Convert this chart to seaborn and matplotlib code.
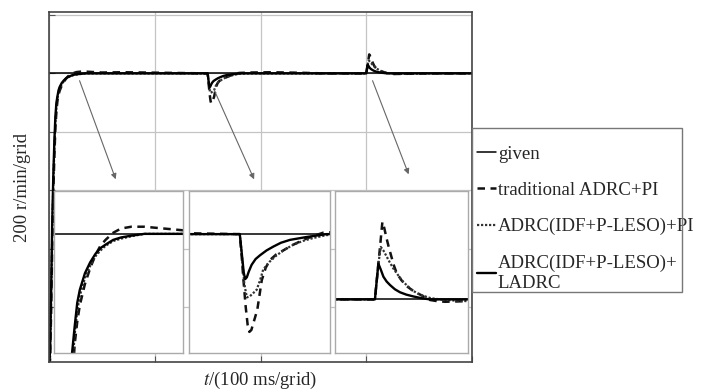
import matplotlib
matplotlib.use("Agg")
import matplotlib.pyplot as plt
from matplotlib.patches import Rectangle
import seaborn as sns

# speed responses, t in ms, speed in r/min
t_given = [0, 400]
v_given = [1000, 1000]

t_trad = [0, 1, 2, 3, 4, 5, 6, 7, 8, 9, 10, 12, 14, 16, 18, 20, 23, 26, 30, 35, 40, 50, 70, 90, 110, 130, 149,
          150, 150.6, 151.3, 152.1, 152.8, 153.4, 154.1, 154.8, 156.2, 157.8, 159.2, 160.7, 163, 165.4, 169, 172.5,
          176, 179.6, 190, 210, 240, 260,
          300, 301.3, 302, 302.8, 303.5, 304.4, 305.3, 306.3, 307.2, 308.2, 310, 312, 314.5, 317, 319, 320.7,
          323.5, 326.4, 334.5, 345, 357, 400]
v_trad = [0, 20, 180, 400, 580, 710, 810, 870, 907, 926, 940, 958, 971, 982, 990, 995, 1001, 1004.5, 1006, 1006, 1005,
          1003, 1004, 1003, 1002, 1001, 1000,
          1000, 980, 952, 924, 905, 898, 900, 907, 921, 952, 965, 973, 979, 983, 989, 994,
          998, 1001.5, 1003, 1004, 1002, 1000,
          1000, 1030, 1046, 1065, 1060, 1051, 1043, 1035, 1028, 1022, 1016, 1011, 1007, 1004, 1001.5, 999.5,
          998.5, 998, 998.5, 999, 1000, 1000]

t_pi = [0, 1, 2, 3, 4, 5, 6, 7, 8, 9, 10, 12, 14, 16, 18, 20, 23, 26, 30, 35,
        150, 150.8, 151.6, 152.5, 153.5, 154.6, 156, 157.2, 158.3, 160.5, 163.1, 166, 169, 172.5, 176.1, 180.8, 190,
        300, 301.3, 302.2, 303.2, 304.4, 305.6, 306.9, 308.5, 310.1, 311.9, 313.8, 316, 318.2, 321, 324.5, 330,
        335, 345, 360, 400]
v_pi = [0, 30, 210, 440, 610, 735, 830, 885, 915, 935, 948, 963, 973, 981, 986, 990, 994, 996, 998, 1000,
        1000, 975, 948, 934, 935, 938, 942, 952, 963, 971, 978, 984, 989, 993, 996, 999, 1000,
        1000, 1030, 1044, 1041, 1036, 1031, 1026, 1021, 1016, 1012, 1008, 1005, 1003, 1001, 1000, 999,
        998.5, 999, 1000, 1000]

t_ladrc = [0, 1, 2, 3, 4, 5, 6, 7, 8, 9, 10, 12, 14, 16, 18, 20, 23, 26, 30, 35,
           150, 150.7, 151.4, 151.9, 152.5, 153.2, 154.2, 155.6, 157.2, 159.5, 161.9, 164.6, 167.8, 173.7, 180.8, 190,
           300, 300.6, 301.3, 302.2, 303.2, 304.4, 305.7, 307.5, 309.4, 311.8, 314.4, 317.5, 320.7, 330, 400]
v_ladrc = [0, 50, 250, 480, 640, 760, 850, 900, 922, 942, 953, 967, 976, 983, 988, 991, 995, 997, 998.5, 1000,
           1000, 980, 960, 953, 955, 961, 968, 974, 978, 983, 987, 991, 994, 997, 1000, 1000,
           1000, 1014, 1030, 1025, 1019, 1015, 1012, 1008.5, 1006, 1004, 1002.5, 1001, 1000, 1000, 1000]

labels = ["given", "traditional ADRC+PI", "ADRC(IDF+P-LESO)+PI", "ADRC(IDF+P-LESO)+\nLADRC"]

# zoom windows (x range, y range) for the three insets
zoom_x = [(0, 50), (132, 182), (285, 335)]
zoom_y = [(900, 1036), (876, 1045), (955, 1091)]


def draw_curves(ax, with_labels):
    lab = labels if with_labels else [None] * 4
    sns.lineplot(x=t_given, y=v_given, ax=ax, color="black", lw=1.1, label=lab[0], errorbar=None)
    sns.lineplot(x=t_trad, y=v_trad, ax=ax, color="#111111", lw=1.8, linestyle=(0, (3, 2.2)),
                 label=lab[1], errorbar=None)
    sns.lineplot(x=t_pi, y=v_pi, ax=ax, color="#333333", lw=1.6, linestyle=(0, (1, 0.8)),
                 label=lab[2], errorbar=None)
    sns.lineplot(x=t_ladrc, y=v_ladrc, ax=ax, color="black", lw=1.7, label=lab[3], errorbar=None)


sns.set_style("white")
plt.rcParams["font.family"] = ["Liberation Serif", "DejaVu Serif"]
plt.rcParams["mathtext.fontset"] = "stix"

fig = plt.figure(figsize=(7.04, 3.92), dpi=100)
ax = fig.add_axes([0.0696, 0.0765, 0.6009, 0.8929])
draw_curves(ax, True)

ax.set_xlim(0, 400)
ax.set_ylim(13, 1210)
ax.set_xticks([0, 100, 200, 300, 400])
ax.set_yticks([200, 400, 600, 800, 1000, 1200])
ax.grid(True, color="#c4c4c4", lw=0.9)
ax.set_axisbelow(True)
ax.tick_params(direction="in", length=4, color="#555555", bottom=True, left=True,
               labelbottom=False, labelleft=False)
for sp in ax.spines.values():
    sp.set_color("#444444")
    sp.set_linewidth(1.2)

ax.set_ylabel("200 r/min/grid", fontsize=13.5, labelpad=13)
ax.set_xlabel("$t$/(100 ms/grid)", fontsize=13.5, labelpad=6)

# arrows from the transients down to the zoomed views
arrow_kw = dict(arrowstyle="-|>", color="#666666", lw=0.8, mutation_scale=8)
ax.annotate("", xy=(64, 629), xytext=(28, 984), arrowprops=arrow_kw)
ax.annotate("", xy=(195, 629), xytext=(155, 953), arrowprops=arrow_kw)
ax.annotate("", xy=(341, 646), xytext=(305, 984), arrowprops=arrow_kw)

# legend: text runs past the frame in the original, so the frame is drawn separately
handles, labs = ax.get_legend_handles_labels()
leg = ax.legend(handles=handles, labels=labs, loc="upper left", bbox_to_anchor=(0.672, 0.638),
                bbox_transform=fig.transFigure, borderaxespad=0, fontsize=13.5, frameon=False,
                handlelength=1.0, handletextpad=0.12, labelspacing=1.02, borderpad=0.2)
fig.patches.append(Rectangle((0.6705, 0.2551), 0.2983, 0.4184, transform=fig.transFigure,
                             fill=False, edgecolor="#777777", lw=1.0))

inset_boxes = [[0.0767, 0.0995, 0.1832, 0.4133],
               [0.2685, 0.0995, 0.2003, 0.4133],
               [0.4759, 0.0995, 0.1889, 0.4133]]
for box, xr, yr in zip(inset_boxes, zoom_x, zoom_y):
    ins = fig.add_axes(box)
    ins.set_facecolor("white")
    draw_curves(ins, False)
    ins.set_xlim(*xr)
    ins.set_ylim(*yr)
    ins.set_xticks([])
    ins.set_yticks([])
    ins.set_xlabel("")
    ins.set_ylabel("")
    for sp in ins.spines.values():
        sp.set_color("#aaaaaa")
        sp.set_linewidth(1.0)

plt.savefig("out.png", dpi=100)
plt.close()
